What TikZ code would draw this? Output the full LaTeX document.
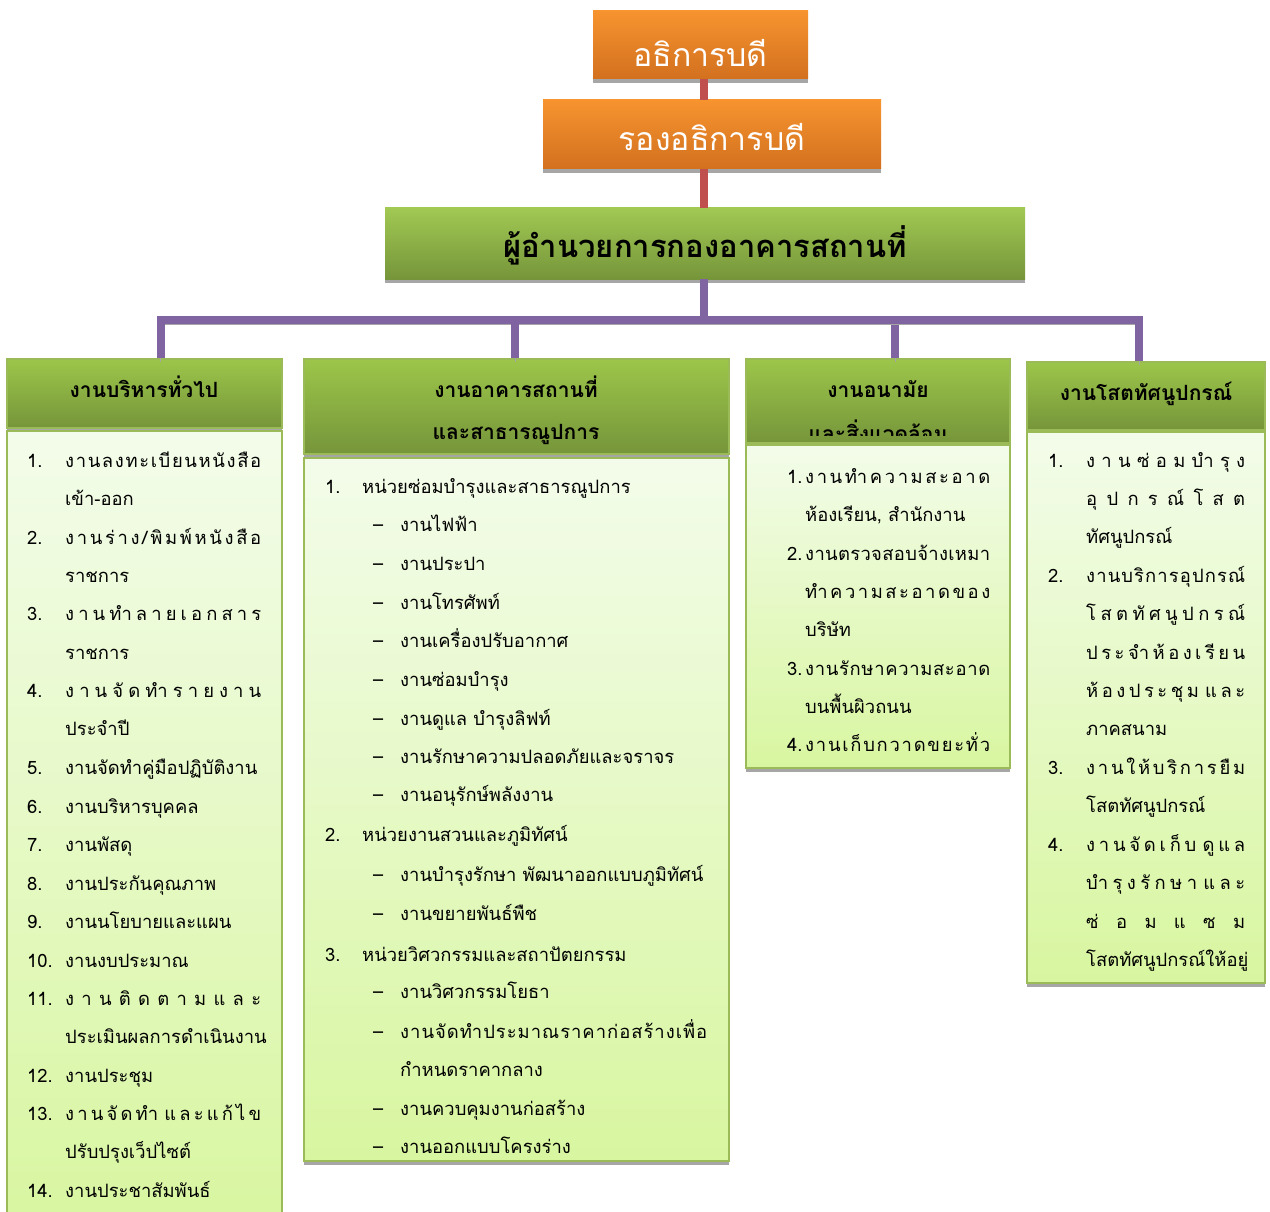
\documentclass[tikz,border=0pt]{standalone}
\usepackage{fontspec}
\setmainfont[Script=Thai]{Loma}
\usepackage{tikz}

\definecolor{orangetop}{HTML}{F7942F}
\definecolor{orangebot}{HTML}{D2701F}
\definecolor{headtop}{HTML}{9CC64A}
\definecolor{headbot}{HTML}{76953A}
\definecolor{bodytop}{HTML}{F3FCEA}
\definecolor{bodybot}{HTML}{D8F6A0}
\definecolor{edgegreen}{HTML}{9BBB59}
\definecolor{shadowgray}{HTML}{A6A6A6}
\definecolor{linered}{HTML}{C0504D}
\definecolor{linepurple}{HTML}{8064A2}

% Thai distributed lines: glue between character clusters
\newXeTeXintercharclass\thbase
\newXeTeXintercharclass\thmark
\count255="0E01
\loop \XeTeXcharclass\count255=\thbase \ifnum\count255<"0E5B \advance\count255 by 1 \repeat
\XeTeXcharclass"0E31=\thmark
\XeTeXcharclass"0E33=\thmark
\count255="0E34
\loop \XeTeXcharclass\count255=\thmark \ifnum\count255<"0E3A \advance\count255 by 1 \repeat
\count255="0E47
\loop \XeTeXcharclass\count255=\thmark \ifnum\count255<"0E4E \advance\count255 by 1 \repeat
\XeTeXinterchartoks\thbase\thbase={\hfil}
\XeTeXinterchartoks\thmark\thbase={\hfil}
\XeTeXinterchartoks\thbase 0={\hfil}
\XeTeXinterchartoks 0\thbase={\hfil}
\XeTeXinterchartoks\thmark 0={\hfil}
\newcommand\spreadto[2]{\hbox to #1{\XeTeXinterchartokenstate=1 #2}}

\begin{document}
\begin{tikzpicture}[x=1pt, y=-1pt,
  shadowed/.style={preaction={fill=shadowgray, transform canvas={yshift=-4pt}}},
  topbox/.style={shadowed, top color=orangetop, bottom color=orangebot, text=white, inner sep=0pt, text depth=0pt, font=\fontsize{32}{32}\selectfont},
  chief/.style={shadowed, top color=headtop!95!white, bottom color=headbot, inner sep=0pt, text height=29pt, text depth=0pt, font=\bfseries\fontsize{31}{31}\selectfont},
  head/.style={shadowed, top color=headtop, bottom color=headbot, draw=edgegreen, line width=1.5pt},
  body/.style={shadowed, top color=bodytop, bottom color=bodybot, draw=edgegreen, line width=2pt},
  title/.style={anchor=base, inner sep=0pt, font=\bfseries\fontsize{21}{21}\selectfont},
  item/.style={anchor=base west, inner sep=0pt, font=\fontsize{18.4}{18.4}\selectfont},
  redline/.style={draw=linered, line width=8pt},
  purpleline/.style={draw=linepurple, line width=8pt, preaction={draw=shadowgray, transform canvas={yshift=-4pt}}}]
\useasboundingbox[fill=white] (0,0) rectangle (1270,1212);

\node[topbox, text height=44pt, minimum width=215pt, minimum height=68pt] (dean) at (700.5,45) {อธิการบดี};
\node[topbox, text height=33pt, minimum width=338pt, minimum height=69pt] (vice) at (712,134.5) {รองอธิการบดี};
\node[chief, minimum width=640pt, minimum height=71pt] (director) at (705,243.5) {ผู้อำนวยการกองอาคารสถานที่};

\coordinate (bar) at (704,320);
\draw[redline] (dean.south -| bar) -- (vice.north -| bar);
\draw[redline] (vice.south -| bar) -- (director.north -| bar);

\node[head, minimum width=275pt, minimum height=69pt] (head1) at (144.5,393.5) {};
\node[head, minimum width=425pt, minimum height=95pt] (head2) at (516.5,406.5) {};
\node[head, minimum width=264pt, minimum height=84pt] (head3) at (878,401) {};
\node[head, minimum width=238pt, minimum height=68pt] (head4) at (1146,396) {};

\draw[purpleline] (director.south -| bar) -- (bar) -| ([xshift=16pt]head1.north);
\draw[purpleline] (bar) -| ([xshift=-1.5pt]head2.north);
\draw[purpleline] (bar) -| ([xshift=17pt]head3.north);
\draw[purpleline] (bar) -| ([xshift=-7pt]head4.north);

\node[title] (t1) at (144,397) {งานบริหารทั่วไป};
\node[title] (t2a) at (516,397) {งานอาคารสถานที่};
\node[title] (t2b) at (516,439) {และสาธารณูปการ};
\node[title] (t3a) at (878,397) {งานอนามัย};
\begin{scope}
\clip (head3.north west) rectangle ([yshift=8pt]head3.south east);
\node[title] (t3b) at (878,441) {และสิ่งแวดล้อม};
\end{scope}
\node[title] (t4) at (1146,400) {งานโสตทัศนูปกรณ์};

\node[body, minimum width=275pt, minimum height=800pt] (body1) at (144.5,831) {};
\node[body, minimum width=425pt, minimum height=703pt] (body2) at (516.5,809.5) {};
\node[body, minimum width=264pt, minimum height=323pt] (body3) at (878,606.5) {};
\node[body, minimum width=238pt, minimum height=551pt] (body4) at (1146,707.5) {};

% general administration
\node[item] (gen1) at (27,467) {\makebox[38pt][l]{1.}\spreadto{196pt}{งานลงทะเบียนหนังสือ}};
\node[item] (gen2) at (65,505) {เข้า-ออก};
\node[item] (gen3) at (27,544) {\makebox[38pt][l]{2.}\spreadto{196pt}{งานร่าง/พิมพ์หนังสือ}};
\node[item] (gen4) at (65,582) {ราชการ};
\node[item] (gen5) at (27,620) {\makebox[38pt][l]{3.}\spreadto{196pt}{งานทำลายเอกสาร}};
\node[item] (gen6) at (65,659) {ราชการ};
\node[item] (gen7) at (27,697) {\makebox[38pt][l]{4.}\spreadto{196pt}{งานจัดทำรายงาน}};
\node[item] (gen8) at (65,735) {ประจำปี};
\node[item] (gen9) at (27,774) {\makebox[38pt][l]{5.}งานจัดทำคู่มือปฏิบัติงาน};
\node[item] (gen10) at (27,813) {\makebox[38pt][l]{6.}งานบริหารบุคคล};
\node[item] (gen11) at (27,851) {\makebox[38pt][l]{7.}งานพัสดุ};
\node[item] (gen12) at (27,890) {\makebox[38pt][l]{8.}งานประกันคุณภาพ};
\node[item] (gen13) at (27,928) {\makebox[38pt][l]{9.}งานนโยบายและแผน};
\node[item] (gen14) at (27,967) {\makebox[38pt][l]{10.}งานงบประมาณ};
\node[item] (gen15) at (27,1005) {\makebox[38pt][l]{11.}\spreadto{196pt}{งานติดตามและ}};
\node[item] (gen16) at (65,1043) {ประเมินผลการดำเนินงาน};
\node[item] (gen17) at (27,1082) {\makebox[38pt][l]{12.}งานประชุม};
\node[item] (gen18) at (27,1120) {\makebox[38pt][l]{13.}\spreadto{196pt}{งานจัดทำ และแก้ไข}};
\node[item] (gen19) at (65,1158) {ปรับปรุงเว็ปไซต์};
\node[item] (gen20) at (27,1197) {\makebox[38pt][l]{14.}งานประชาสัมพันธ์};

% buildings and utilities
\node[item] (bld1) at (325,493) {\makebox[37pt][l]{1.}หน่วยซ่อมบำรุงและสาธารณูปการ};
\node[item] (bld2) at (373,531) {\makebox[27pt][l]{–}งานไฟฟ้า};
\node[item] (bld3) at (373,570) {\makebox[27pt][l]{–}งานประปา};
\node[item] (bld4) at (373,609) {\makebox[27pt][l]{–}งานโทรศัพท์};
\node[item] (bld5) at (373,647) {\makebox[27pt][l]{–}งานเครื่องปรับอากาศ};
\node[item] (bld6) at (373,686) {\makebox[27pt][l]{–}งานซ่อมบำรุง};
\node[item] (bld7) at (373,725) {\makebox[27pt][l]{–}งานดูแล บำรุงลิฟท์};
\node[item] (bld8) at (373,763) {\makebox[27pt][l]{–}งานรักษาความปลอดภัยและจราจร};
\node[item] (bld9) at (373,801) {\makebox[27pt][l]{–}งานอนุรักษ์พลังงาน};
\node[item] (bld10) at (325,841) {\makebox[37pt][l]{2.}หน่วยงานสวนและภูมิทัศน์};
\node[item] (bld11) at (373,881) {\makebox[27pt][l]{–}งานบำรุงรักษา พัฒนาออกแบบภูมิทัศน์};
\node[item] (bld12) at (373,920) {\makebox[27pt][l]{–}งานขยายพันธ์พืช};
\node[item] (bld13) at (325,961) {\makebox[37pt][l]{3.}หน่วยวิศวกรรมและสถาปัตยกรรม};
\node[item] (bld14) at (373,998) {\makebox[27pt][l]{–}งานวิศวกรรมโยธา};
\node[item] (bld15) at (373,1038) {\makebox[27pt][l]{–}\spreadto{307pt}{งานจัดทำประมาณราคาก่อสร้างเพื่อ}};
\node[item] (bld16) at (400,1076) {กำหนดราคากลาง};
\node[item] (bld17) at (373,1115) {\makebox[27pt][l]{–}งานควบคุมงานก่อสร้าง};
\node[item] (bld18) at (373,1153) {\makebox[27pt][l]{–}งานออกแบบโครงร่าง};

% hygiene and environment
\node[item] (env1) at (787,483) {\makebox[18pt][l]{1.}\spreadto{185pt}{งานทำความสะอาด}};
\node[item] (env2) at (805,521) {ห้องเรียน, สำนักงาน};
\node[item] (env3) at (787,560) {\makebox[18pt][l]{2.}\spreadto{185pt}{งานตรวจสอบจ้างเหมา}};
\node[item] (env4) at (805,598) {\spreadto{185pt}{ทำความสะอาดของ}};
\node[item] (env5) at (805,636) {บริษัท};
\node[item] (env6) at (787,675) {\makebox[18pt][l]{3.}\spreadto{185pt}{งานรักษาความสะอาด}};
\node[item] (env7) at (805,713) {บนพื้นผิวถนน};
\node[item] (env8) at (787,751) {\makebox[18pt][l]{4.}\spreadto{185pt}{งานเก็บกวาดขยะทั่ว}};

% audio-visual
\node[item] (av1) at (1048,467) {\makebox[38pt][l]{1.}\spreadto{159pt}{งานซ่อมบำรุง}};
\node[item] (av2) at (1086,505) {\spreadto{159pt}{อุปกรณ์โสต}};
\node[item] (av3) at (1086,543) {ทัศนูปกรณ์};
\node[item] (av4) at (1048,582) {\makebox[38pt][l]{2.}\spreadto{159pt}{งานบริการอุปกรณ์}};
\node[item] (av5) at (1086,620) {\spreadto{159pt}{โสตทัศนูปกรณ์}};
\node[item] (av6) at (1086,659) {\spreadto{159pt}{ประจำห้องเรียน}};
\node[item] (av7) at (1086,697) {\spreadto{159pt}{ห้องประชุม และ}};
\node[item] (av8) at (1086,735) {ภาคสนาม};
\node[item] (av9) at (1048,774) {\makebox[38pt][l]{3.}\spreadto{159pt}{งานให้บริการยืม}};
\node[item] (av10) at (1086,812) {โสตทัศนูปกรณ์};
\node[item] (av11) at (1048,851) {\makebox[38pt][l]{4.}\spreadto{159pt}{งานจัดเก็บ ดูแล}};
\node[item] (av12) at (1086,889) {\spreadto{159pt}{บำรุงรักษา และ}};
\node[item] (av13) at (1086,928) {\spreadto{159pt}{ซ่อมแซม}};
\node[item] (av14) at (1086,966) {โสตทัศนูปกรณ์ให้อยู่};
\end{tikzpicture}
\end{document}
